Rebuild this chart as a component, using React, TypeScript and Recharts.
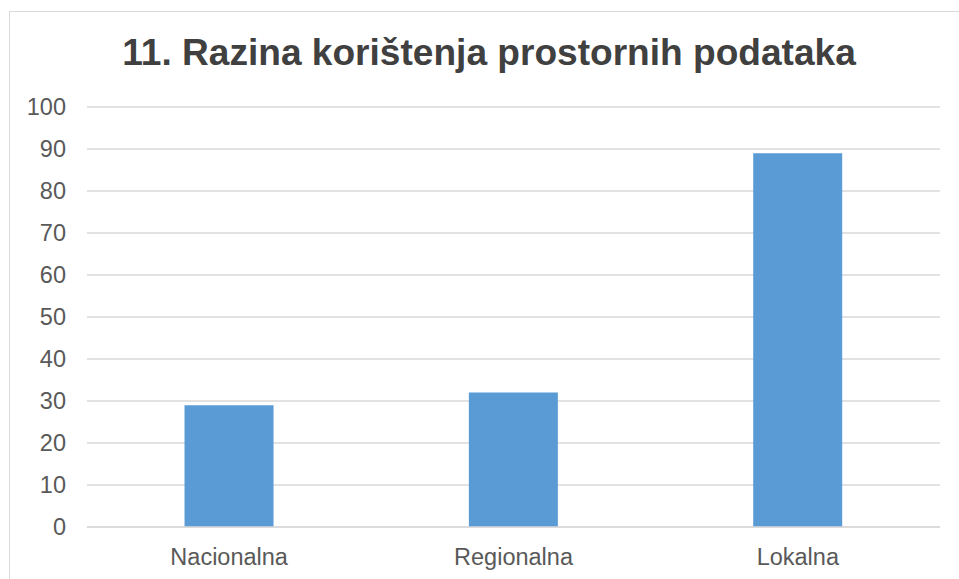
import { BarChart, Bar, XAxis, YAxis, CartesianGrid } from 'recharts';

const categories = ['Nacionalna', 'Regionalna', 'Lokalna'];
const values = [29, 32, 89];
const yTicks = [0, 10, 20, 30, 40, 50, 60, 70, 80, 90, 100];

const data = categories.map((name, i) => ({ name, value: values[i] }));

const FONT = '"Liberation Sans", Arial, sans-serif';
const tickStyle = { fill: '#595959', fontSize: 23.5, fontFamily: FONT };

export default function App() {
  return (
    <div style={{ position: 'fixed', left: 0, top: 0, width: 959, height: 579, background: '#fff', overflow: 'hidden' }}>
      {/* chart frame */}
      <div
        style={{
          position: 'absolute', left: 9, top: 11, width: 960, height: 600,
          border: '1px solid #d9d9d9', boxSizing: 'border-box',
        }}
      />
      <div
        style={{
          position: 'absolute', left: 0, top: 34, width: 978, textAlign: 'center',
          fontFamily: FONT, fontWeight: 'bold', fontSize: 37.1, lineHeight: '37px', color: '#404040',
        }}
      >
        11. Razina korištenja prostornih podataka
      </div>
      <div style={{ position: 'absolute', left: 0, top: 0 }}>
        <BarChart
          width={959}
          height={579}
          data={data}
          margin={{ top: 107, right: 19, left: 0, bottom: 0 }}
          barCategoryGap="34.3%"
        >
          <CartesianGrid vertical={false} stroke="#d9d9d9" strokeWidth={1.5} />
          <XAxis
            dataKey="name"
            height={52}
            tickLine={false}
            tickSize={0}
            tickMargin={21}
            axisLine={{ stroke: '#d9d9d9', strokeWidth: 1.5 }}
            tick={tickStyle}
          />
          <YAxis
            domain={[0, 100]}
            ticks={yTicks}
            width={87}
            axisLine={false}
            tickLine={false}
            tickSize={0}
            tickMargin={21}
            tick={tickStyle}
          />
          <Bar dataKey="value" fill="#5b9bd5" isAnimationActive={false} />
        </BarChart>
      </div>
    </div>
  );
}
